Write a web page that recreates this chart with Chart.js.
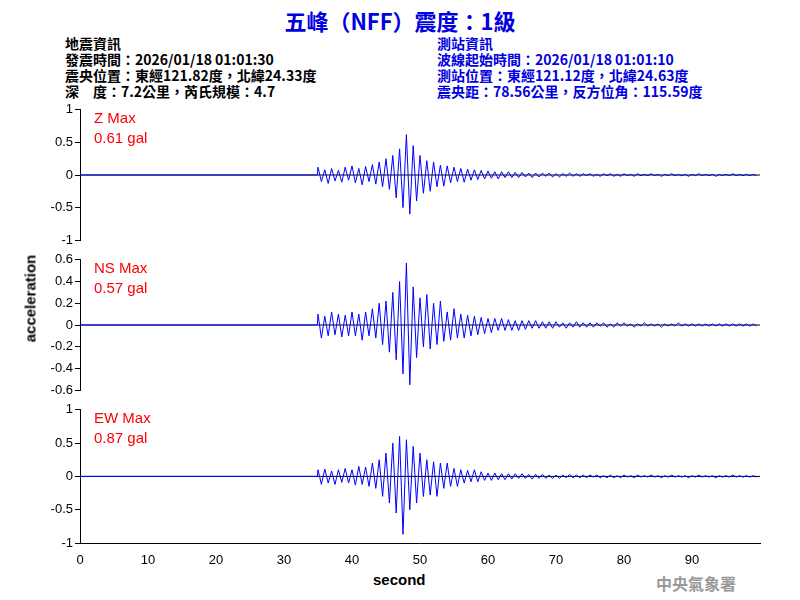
<!DOCTYPE html>
<html><head><meta charset="utf-8">
<script src="https://cdn.jsdelivr.net/npm/chart.js@4/dist/chart.umd.min.js"></script>
<style>
body{margin:0;width:800px;height:600px;background:#fff;position:relative;font-family:"Liberation Sans",Arial,sans-serif;overflow:hidden}
canvas{position:absolute;left:0}
.t{position:absolute;white-space:nowrap}
.info{font-family:"Noto Sans CJK TC";font-weight:bold;font-size:14px;line-height:16px}
.lbl{position:absolute;color:#f00;font-size:15px;font-family:"Liberation Sans",Arial;left:94px;line-height:20px}
</style></head><body>
<div class="t" style="left:0;width:800px;text-align:center;top:4px;color:#0000e0;font-family:'Noto Sans CJK TC';font-weight:bold;font-size:22px">五峰（NFF）震度：1級</div>
<div class="t info" style="left:65px;top:35px;color:#000">地震資訊<br>發震時間：2026/01/18 01:01:30<br>震央位置：東經121.82度，北緯24.33度<br>深　度：7.2公里，芮氏規模：4.7</div>
<div class="t info" style="left:437px;top:35px;color:#0000e0">測站資訊<br>波線起始時間：2026/01/18 01:01:10<br>測站位置：東經121.12度，北緯24.63度<br>震央距：78.56公里，反方位角：115.59度</div>
<canvas id="c1" width="800" height="150" style="top:100px"></canvas>
<canvas id="c2" width="800" height="150" style="top:250px"></canvas>
<canvas id="c3" width="800" height="170" style="top:400px"></canvas>
<div class="lbl" style="top:108px">Z Max<br>0.61 gal</div>
<div class="lbl" style="top:258px">NS Max<br>0.57 gal</div>
<div class="lbl" style="top:408px">EW Max<br>0.87 gal</div>
<div class="t" style="left:-20px;top:290px;transform:rotate(-90deg);font-size:15px;font-weight:bold;width:100px;text-align:center">acceleration</div>
<div class="t" style="left:373px;top:571px;font-size:15px;font-weight:bold">second</div>
<div class="t" style="left:656px;top:571px;font-size:16px;font-weight:bold;color:#999;font-family:'Noto Sans CJK TC'">中央氣象署</div>
<script>
const startTime = 35, step = 0.5;
const zValues = [0.12,-0.1,0.08,-0.13,0.1,-0.09,0.07,-0.11,0.12,-0.08,
0.14,-0.12,0.1,-0.15,0.13,-0.1,0.16,-0.14,0.2,-0.18,
0.25,-0.22,0.3,-0.35,0.4,-0.5,0.62,-0.6,0.45,-0.4,
0.3,-0.28,0.22,-0.25,0.2,-0.18,0.15,-0.17,0.14,-0.12,
0.12,-0.1,0.1,-0.11,0.09,-0.08,0.08,-0.07,0.07,-0.06,
0.06,-0.05,0.05,-0.06,0.05,-0.04,0.05,-0.04,0.04,-0.04,0.04,-0.03,0.03,-0.04,0.03,-0.03,0.03,-0.02,0.03,-0.03,
0.02,-0.03,0.02,-0.02,0.03,-0.02,0.02,-0.02,0.02,-0.01,0.02,-0.02,0.01,-0.02,0.02,-0.01,0.02,-0.02,0.01,-0.02,
0.02,-0.01,0.01,-0.02,0.02,-0.01,0.01,-0.01,0.02,-0.01,0.01,-0.02,0.01,-0.01,0.02,-0.01,0.01,-0.01,0.01,-0.02,
0.01,-0.01,0.02,-0.01,0.01,-0.01,0.01,-0.02,0.01,-0.01,0.01,-0.01,0.02,-0.01,0.01,-0.01,0.01,-0.01,0.01,-0.01];
const nsValues = [0.1,-0.12,0.08,-0.1,0.12,-0.09,0.1,-0.11,0.09,-0.1,
0.12,-0.1,0.1,-0.14,0.12,-0.1,0.15,-0.12,0.2,-0.18,
0.22,-0.25,0.3,-0.32,0.4,-0.45,0.57,-0.55,0.35,-0.3,
0.25,-0.2,0.28,-0.22,0.2,-0.18,0.22,-0.15,0.12,-0.14,
0.15,-0.12,0.1,-0.12,0.09,-0.1,0.08,-0.09,0.07,-0.08,
0.06,-0.07,0.06,-0.05,0.06,-0.05,0.05,-0.05,0.04,-0.05,0.04,-0.04,0.04,-0.03,0.04,-0.03,0.03,-0.03,0.03,-0.03,
0.03,-0.02,0.02,-0.03,0.02,-0.02,0.03,-0.02,0.02,-0.02,0.02,-0.02,0.02,-0.01,0.02,-0.02,0.01,-0.02,0.02,-0.01,
0.02,-0.01,0.01,-0.02,0.01,-0.01,0.02,-0.01,0.01,-0.01,0.01,-0.02,0.01,-0.01,0.01,-0.01,0.02,-0.01,0.01,-0.01,
0.01,-0.01,0.01,-0.01,0.01,-0.01,0.01,-0.01,0.01,-0.01,0.01,-0.01,0.01,-0.01,0.01,-0.01,0.01,-0.01,0.01,-0.01];
const ewValues = [0.1,-0.12,0.11,-0.1,0.08,-0.12,0.1,-0.09,0.12,-0.1,
0.1,-0.13,0.15,-0.12,0.14,-0.15,0.2,-0.18,0.25,-0.3,
0.35,-0.4,0.5,-0.55,0.6,-0.87,0.55,-0.5,0.45,-0.4,
0.35,-0.3,0.25,-0.28,0.22,-0.3,0.2,-0.18,0.2,-0.15,
0.12,-0.15,0.1,-0.1,0.09,-0.08,0.1,-0.08,0.07,-0.06,
0.05,-0.06,0.05,-0.05,0.04,-0.05,0.04,-0.04,0.04,-0.03,0.04,-0.03,0.03,-0.04,0.03,-0.03,0.03,-0.03,0.02,-0.03,
0.02,-0.03,0.02,-0.02,0.03,-0.02,0.02,-0.02,0.02,-0.02,0.02,-0.01,0.02,-0.02,0.01,-0.02,0.02,-0.02,0.01,-0.02,
0.02,-0.01,0.01,-0.02,0.02,-0.01,0.01,-0.01,0.02,-0.01,0.01,-0.02,0.01,-0.01,0.02,-0.01,0.01,-0.01,0.01,-0.02,
0.01,-0.01,0.02,-0.01,0.01,-0.01,0.01,-0.02,0.01,-0.01,0.01,-0.01,0.02,-0.01,0.01,-0.01,0.01,-0.01,0.01,-0.01];
const xTicks = [0,10,20,30,40,50,60,70,80,90];
const zTicks = [-1,-0.5,0,0.5,1];
const nsTicks = [-0.6,-0.4,-0.2,0,0.2,0.4,0.6];

function series(vals){
  const pts=[{x:0,y:0},{x:34.9,y:0}];
  vals.forEach((v,i)=>pts.push({x:startTime+i*step,y:v}));
  return pts;
}
function make(id,vals,lim,yt,showX,padBottom){
  new Chart(document.getElementById(id),{type:'line',
    data:{datasets:[
      {data:series(vals),borderColor:'#0000ff',borderWidth:1,pointRadius:0,tension:0,order:1},
      {data:[{x:0,y:0},{x:100,y:0}],borderColor:'#000',borderWidth:1,pointRadius:0,order:2}]},
    options:{responsive:false,animation:false,
      layout:{padding:{top:8,bottom:padBottom,right:40,left:0}},
      plugins:{legend:{display:false},tooltip:{enabled:false}},
      scales:{
        x:{type:'linear',min:0,max:100,display:showX,grid:{display:false,drawOnChartArea:false},
          border:{color:'#000'},
          afterBuildTicks:s=>{s.ticks=xTicks.map(v=>({value:v}));},
          ticks:{color:'#000',font:{size:13,family:'Liberation Sans'},maxRotation:0,padding:2},
          afterFit:s=>{if(showX) s.height=27; else s.height=0;}},
        y:{min:-lim,max:lim,grid:{drawOnChartArea:false,tickLength:5,color:'#000'},border:{color:'#000'},
          afterBuildTicks:s=>{s.ticks=yt.map(v=>({value:v}));},
          ticks:{autoSkip:false,color:'#000',font:{size:13,family:'Liberation Sans'},padding:2,
            callback:v=>String(Math.round(v*10)/10)},
          afterFit:s=>{s.width=80;}}
      }}});
}
make('c1',zValues,1,zTicks,false,7);
make('c2',nsValues,0.6,nsTicks,false,7);
make('c3',ewValues,1,zTicks,true,0);
</script></body></html>
